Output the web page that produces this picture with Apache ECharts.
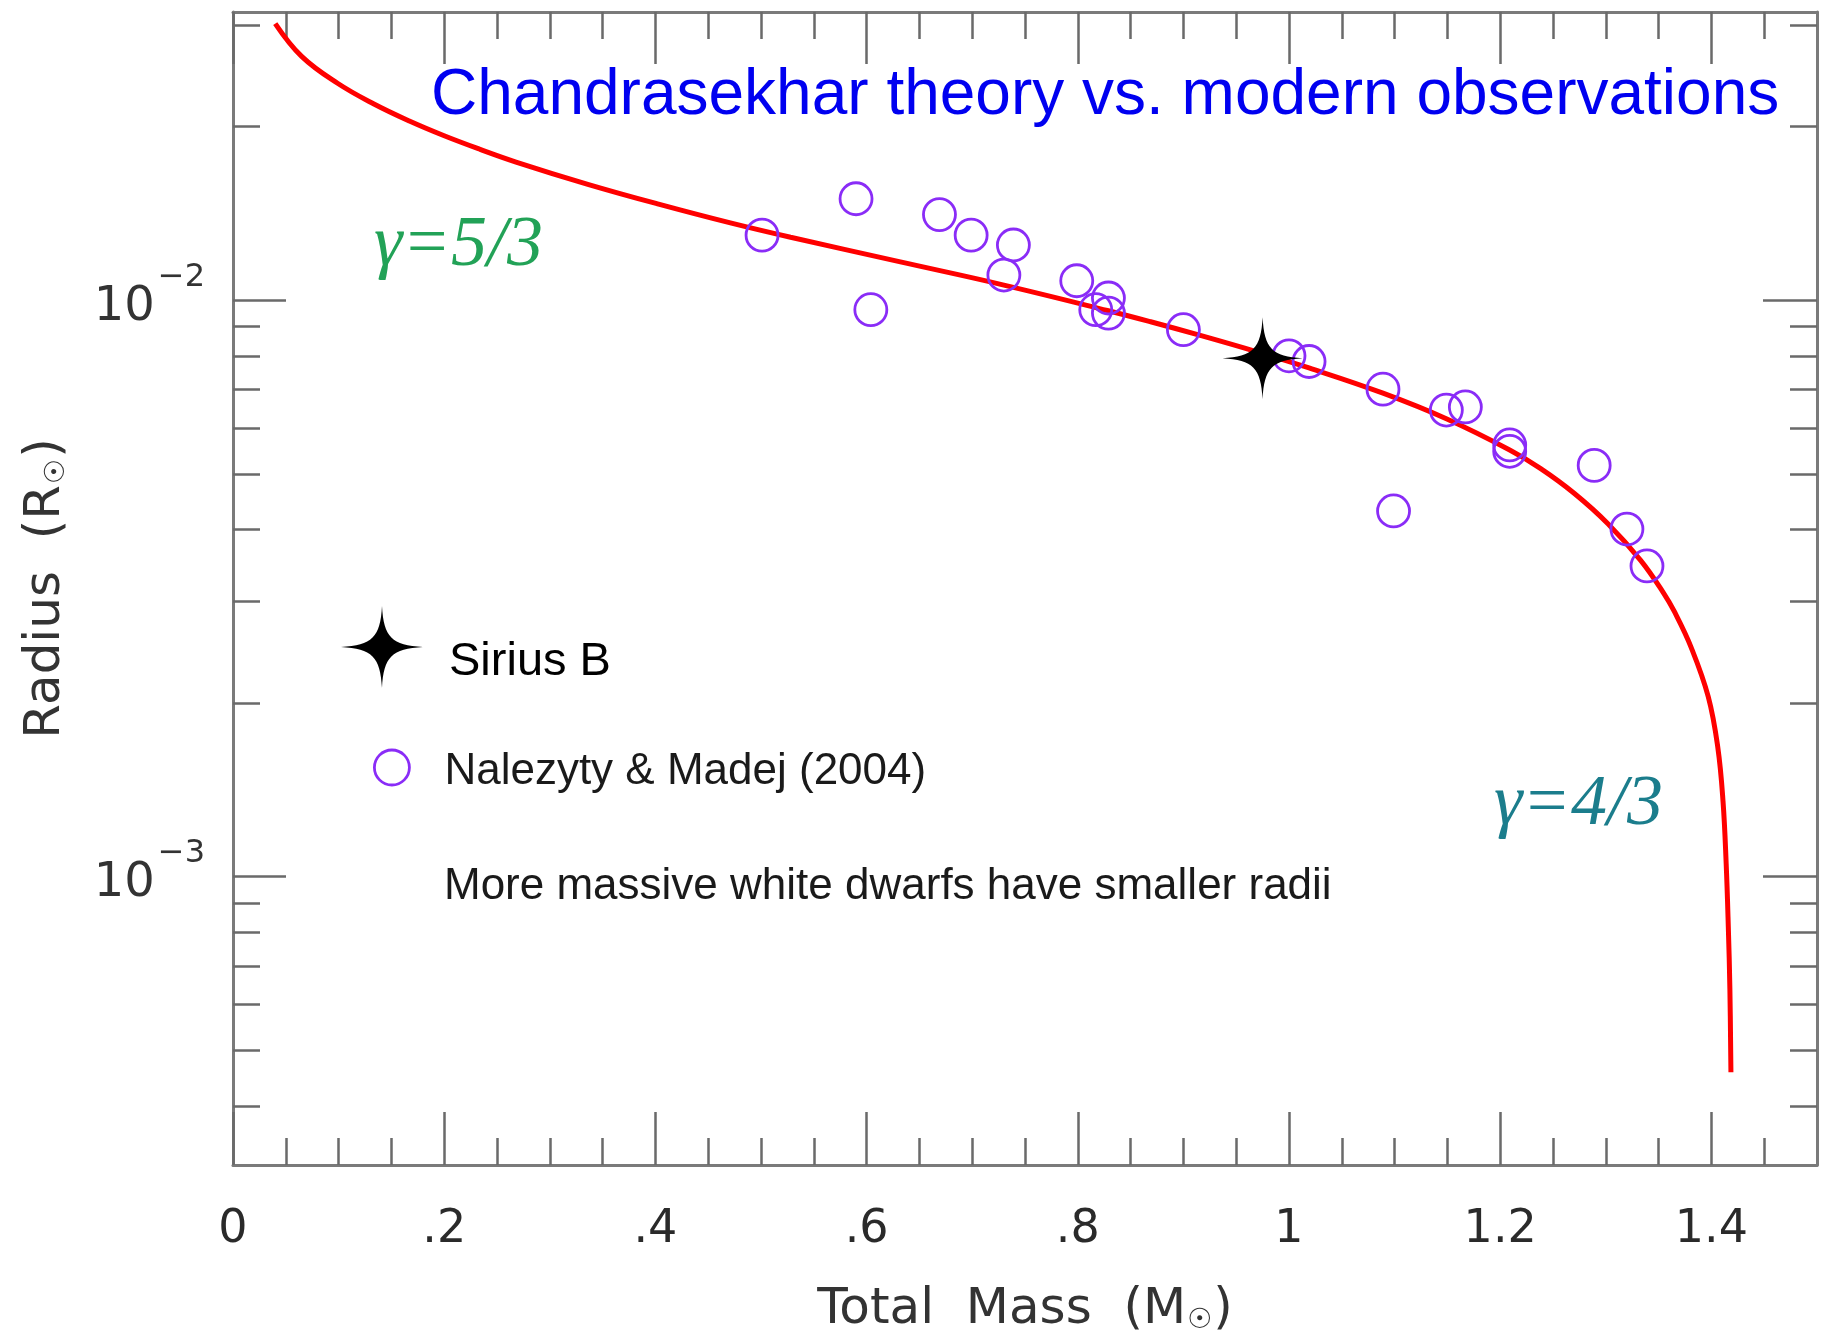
<!DOCTYPE html>
<html><head><meta charset="utf-8">
<script src="https://cdn.jsdelivr.net/npm/echarts@6/dist/echarts.min.js"></script>
<style>html,body{margin:0;padding:0;background:#fff}#c{width:1825px;height:1340px}</style>
</head><body><div id="c"></div>
<script>
// ---- data ----
const curveMass = [0.040, 0.065, 0.099, 0.133, 0.167, 0.200, 0.234, 0.268, 0.336, 0.403, 0.471, 0.528, 0.632, 0.729, 0.828, 0.869, 0.916, 0.969, 1.019, 1.089, 1.149, 1.209, 1.238, 1.270, 1.302, 1.333, 1.354, 1.365, 1.381, 1.397, 1.406, 1.411, 1.414, 1.416, 1.4175, 1.4185];
const curveRadius = [0.0302, 0.02649, 0.02379, 0.02192, 0.02046, 0.01929, 0.01827, 0.01737, 0.01589, 0.01468, 0.01362, 0.01286, 0.011655, 0.010636, 0.00960, 0.009176, 0.00869, 0.008146, 0.00763, 0.00690, 0.00623, 0.00550, 0.005110, 0.004627, 0.004097, 0.003539, 0.003121, 0.002882, 0.002495, 0.002053, 0.001680, 0.001352, 0.001053, 0.000820, 0.000639, 0.000458];

const obsMass = [0.501, 0.590, 0.604, 0.669, 0.699, 0.739, 0.730, 0.799, 0.829, 0.817, 0.829, 0.900, 1.000, 1.019, 1.089, 1.149, 1.167, 1.209, 1.209, 1.289, 1.099, 1.320, 1.339];
const obsRadius = [0.01297, 0.01500, 0.00963, 0.01408, 0.01297, 0.01247, 0.01106, 0.01081, 0.01009, 0.00963, 0.00950, 0.00889, 0.00801, 0.00783, 0.00701, 0.00645, 0.00653, 0.00561, 0.00547, 0.00517, 0.00431, 0.00401, 0.00346];

const siriusMass = [0.975];
const siriusRadius = [0.00793];

const xMajorTicks = [0, 0.2, 0.4, 0.6, 0.8, 1.0, 1.2, 1.4];
const xTickLabels = ['0', '.2', '.4', '.6', '.8', '1', '1.2', '1.4'];
const xMinorTicks = [0.05, 0.1, 0.15, 0.25, 0.3, 0.35, 0.45, 0.5, 0.55, 0.65, 0.7, 0.75, 0.85, 0.9, 0.95, 1.05, 1.1, 1.15, 1.25, 1.3, 1.35, 1.45];
const yMajorTicks = [0.001, 0.01];
const yTickExponents = ['\u22123', '\u22122'];
const yMinorTicks = [0.0004, 0.0005, 0.0006, 0.0007, 0.0008, 0.0009, 0.002, 0.003, 0.004, 0.005, 0.006, 0.007, 0.008, 0.009, 0.02, 0.03];

const xMin = 0, xMax = 1.5;
const yMin = Math.pow(10, -3.5), yMax = Math.pow(10, -1.5);

// ---- styling ----
const axisGray = '#7a7a7a';
const tickGray = '#6a6a6a';
const labelFont = 'DejaVu Sans';
const starPath = 'path://M50,0 C52,38 62,48 100,50 C62,52 52,62 50,100 C48,62 38,52 0,50 C38,48 48,38 50,0 Z';
const purple = '#8a2cf7';

const lineStyleAxis = { color: axisGray, width: 3 };
const lineStyleTick = { color: tickGray, width: 2.5 };

function xBase(pos) {
  return { type: 'value', position: pos, min: xMin, max: xMax, splitLine: { show: false },
    axisLine: { show: false, onZero: false }, axisLabel: { show: false }, axisTick: { show: false } };
}
function yBase(pos) {
  return { type: 'log', logBase: 10, position: pos, min: yMin, max: yMax, splitLine: { show: false },
    axisLine: { show: false, onZero: false }, axisLabel: { show: false }, axisTick: { show: false } };
}

const xAxes = [
  Object.assign(xBase('bottom'), {
    axisLine: { show: true, onZero: false, lineStyle: lineStyleAxis },
    axisTick: { show: true, inside: true, length: 53, customValues: xMajorTicks, lineStyle: lineStyleTick },
    axisLabel: { show: true, customValues: xMajorTicks, margin: 42,
      fontFamily: labelFont, fontSize: 46, color: '#2a2a2a',
      formatter: v => { const i = xMajorTicks.findIndex(t => Math.abs(t - v) < 1e-6); return i >= 0 ? xTickLabels[i] : ''; } },
    name: '{a|Total  Mass  (M}{s|\u2609}{a|)}', nameLocation: 'middle', nameGap: 120,
    nameTextStyle: { rich: {
      a: { fontFamily: labelFont, fontSize: 50, color: '#333', lineHeight: 50 },
      s: { fontFamily: labelFont, fontSize: 28, color: '#333', lineHeight: 28, padding: [22, 1, 0, 1] } } }
  }),
  Object.assign(xBase('bottom'), {
    axisTick: { show: true, inside: true, length: 27, customValues: xMinorTicks, lineStyle: lineStyleTick } }),
  Object.assign(xBase('top'), {
    axisLine: { show: true, onZero: false, lineStyle: lineStyleAxis },
    axisTick: { show: true, inside: true, length: 52, customValues: xMajorTicks, lineStyle: lineStyleTick } }),
  Object.assign(xBase('top'), {
    axisTick: { show: true, inside: true, length: 27, customValues: xMinorTicks, lineStyle: lineStyleTick } })
];

const yAxes = [
  Object.assign(yBase('left'), {
    axisLine: { show: true, onZero: false, lineStyle: lineStyleAxis },
    axisTick: { show: true, inside: true, length: 53, customValues: yMajorTicks, lineStyle: lineStyleTick },
    axisLabel: { show: true, customValues: yMajorTicks, margin: 28,
      formatter: v => {
        const e = Math.round(Math.log10(v));
        const i = yMajorTicks.findIndex(t => Math.round(Math.log10(t)) === e);
        return '{b|10}{s|' + (i >= 0 ? yTickExponents[i] : '') + '}';
      },
      rich: {
        b: { fontFamily: labelFont, fontSize: 48, color: '#333', lineHeight: 48, padding: [14, 0, 0, 0] },
        s: { fontFamily: labelFont, fontSize: 32, color: '#333', lineHeight: 32, padding: [0, 0, 46, 3] }
      } },
    name: '{a|Radius  (R}{s|\u2609}{a|)}', nameLocation: 'middle', nameGap: 162,
    nameTextStyle: { rich: {
      a: { fontFamily: labelFont, fontSize: 50, color: '#333', lineHeight: 50 },
      s: { fontFamily: labelFont, fontSize: 28, color: '#333', lineHeight: 28, padding: [22, 1, 0, 1] } } }
  }),
  Object.assign(yBase('left'), {
    axisTick: { show: true, inside: true, length: 27, customValues: yMinorTicks, lineStyle: lineStyleTick } }),
  Object.assign(yBase('right'), {
    axisLine: { show: true, onZero: false, lineStyle: lineStyleAxis },
    axisTick: { show: true, inside: true, length: 54, customValues: yMajorTicks, lineStyle: lineStyleTick } }),
  Object.assign(yBase('right'), {
    axisTick: { show: true, inside: true, length: 27, customValues: yMinorTicks, lineStyle: lineStyleTick } })
];

const chart = echarts.init(document.getElementById('c'), null, { renderer: 'canvas' });
chart.setOption({
  animation: false,
  backgroundColor: '#ffffff',
  grid: { left: 233, right: 8, top: 12, bottom: 167, containLabel: false },
  title: { text: 'Chandrasekhar theory vs. modern observations', left: 426, top: 59,
    textStyle: { fontFamily: 'Liberation Sans', fontSize: 64, fontWeight: 'normal', color: '#0000f0' } },
  legend: [
    { data: [{ name: 'Sirius B', icon: starPath }], left: 336, top: 601, orient: 'vertical',
      itemWidth: 82, itemHeight: 84, selectedMode: false,
      itemStyle: { color: '#000', opacity: 1 },
      formatter: name => '{a|' + name + '}',
      textStyle: { rich: { a: { fontFamily: 'Liberation Sans', fontSize: 47, color: '#000', lineHeight: 47, padding: [31, 0, 0, 21] } } } },
    { data: [{ name: 'Nalezyty & Madej (2004)', icon: 'circle' }], left: 368, top: 736, orient: 'vertical',
      itemWidth: 35, itemHeight: 35, selectedMode: false,
      itemStyle: { color: 'rgba(255,255,255,0)', borderColor: purple, borderWidth: 2.8, opacity: 1 },
      formatter: name => '{a|' + name + '}',
      textStyle: { rich: { a: { fontFamily: 'Liberation Sans', fontSize: 44, color: '#1a1a1a', lineHeight: 44, padding: [9, 0, 0, 30] } } } }
  ],
  xAxis: xAxes,
  yAxis: yAxes,
  graphic: [
    { type: 'text', x: 444, y: 887, silent: true,
      style: { text: 'More massive white dwarfs have smaller radii', font: '44px "Liberation Sans"', fill: '#1a1a1a', verticalAlign: 'middle' } },
    { type: 'text', x: 374, y: 246, silent: true,
      style: { text: '\u03b3=5/3', font: 'italic 72px "Liberation Serif"', fill: '#22a257', verticalAlign: 'middle' } },
    { type: 'text', x: 1494, y: 805, silent: true,
      style: { text: '\u03b3=4/3', font: 'italic 72px "Liberation Serif"', fill: '#1b7d8c', verticalAlign: 'middle' } }
  ],
  series: [
    { type: 'line', name: 'Chandrasekhar', xAxisIndex: 0, yAxisIndex: 0,
      data: curveMass.map((m, i) => [m, curveRadius[i]]),
      showSymbol: false, symbol: 'none', smooth: 0.4, z: 2,
      lineStyle: { color: '#ff0000', width: 5 } },
    { type: 'scatter', name: 'Nalezyty & Madej (2004)', xAxisIndex: 0, yAxisIndex: 0,
      data: obsMass.map((m, i) => [m, obsRadius[i]]),
      symbol: 'circle', symbolSize: 32, z: 3,
      itemStyle: { color: 'rgba(255,255,255,0)', borderColor: purple, borderWidth: 2.8, opacity: 1 } },
    { type: 'scatter', name: 'Sirius B', xAxisIndex: 0, yAxisIndex: 0,
      data: siriusMass.map((m, i) => [m, siriusRadius[i]]),
      symbol: starPath, symbolSize: [80, 82], z: 4,
      itemStyle: { color: '#000000', opacity: 1 } }
  ]
});
</script>
</body></html>
